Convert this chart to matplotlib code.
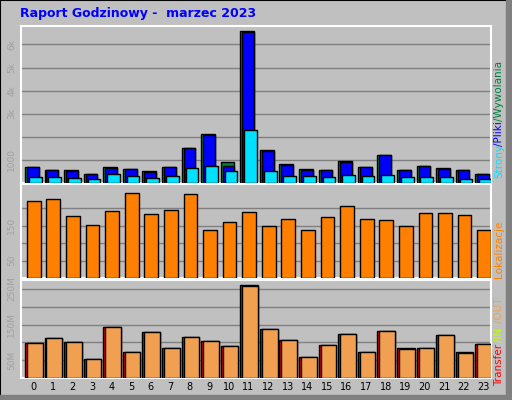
import matplotlib
matplotlib.use("Agg")
import matplotlib.pyplot as plt
from matplotlib.patches import Rectangle

hours = list(range(24))
hits = [680, 550, 550, 380, 680, 600, 510, 680, 1510, 2120, 900, 6590,
        1420, 810, 600, 550, 940, 680, 1200, 550, 720, 640, 550, 380]
files = [680, 550, 510, 380, 650, 600, 490, 680, 1510, 2070, 720, 6550,
         1380, 770, 550, 550, 900, 680, 1200, 550, 720, 600, 550, 380]
pages = [250, 250, 200, 160, 380, 290, 200, 290, 640, 720, 510, 2290,
         510, 290, 290, 250, 330, 290, 330, 250, 250, 250, 160, 160]
sites = [222, 228, 178, 153, 192, 244, 183, 194, 242, 139, 161, 189,
         150, 169, 139, 175, 206, 169, 167, 150, 186, 186, 181, 139]
transfer = [98, 112, 101, 52, 142, 72, 130, 84, 115, 104, 89, 260,
            138, 107, 58, 92, 124, 72, 133, 84, 84, 121, 72, 95]
out_mb = [98, 112, 101, 52, 142, 72, 130, 84, 115, 104, 89, 257,
          138, 107, 58, 92, 124, 72, 133, 81, 84, 121, 69, 95]

W, H = 512, 400
GRAY = "#c0c0c0"
fig = plt.figure(figsize=(W / 100, H / 100), dpi=100, facecolor=GRAY)

# outer bevelled frame
fig.patches.append(Rectangle((0, 0), 1, 1, transform=fig.transFigure,
                             fill=False, edgecolor="black", lw=1.5))
fig.patches.append(Rectangle((506 / W, 0), 6 / W, 1, transform=fig.transFigure,
                             color="#808080"))
fig.patches.append(Rectangle((0, 0), 1, 5 / H, transform=fig.transFigure,
                             color="#808080"))

fig.text(20 / W, 1 - 13 / H, "Raport Godzinowy -  marzec 2023", color="#0000ff",
         fontsize=9, fontweight="bold", va="center", family="DejaVu Sans")


def make_ax(top, bottom):
    ax = fig.add_axes([21 / W, 1 - bottom / H, 470 / W, (bottom - top) / H])
    ax.set_facecolor(GRAY)
    ax.set_xlim(0, 24)
    for s in ax.spines.values():
        s.set_color("white")
        s.set_linewidth(1.5)
    ax.tick_params(length=0, labelsize=6.5, labelcolor="#a0a0a0")
    ax.set_xticks([])
    return ax


def bars(ax, left, width, vals, color):
    ax.bar([h + left for h in hours], vals, width=width, align="edge",
           color=color, edgecolor="black", linewidth=1, zorder=3)


# top panel: hits / files / pages
ax1 = make_ax(26, 183)
ax1.set_ylim(0, 6800)
ax1.set_yticks([1000, 2000, 3000, 4000, 5000, 6000])
ax1.set_yticklabels(["1000", "", "3k", "4k", "5k", "6k"], rotation=90, va="center")
ax1.grid(axis="y", color="#808080", lw=1, zorder=0)
bars(ax1, 0.2, 0.7, hits, "#008040")
bars(ax1, 0.3, 0.6, files, "#0000ff")
bars(ax1, 0.4, 0.65, pages, "#00e0ff")

# middle panel: sites
ax2 = make_ax(184, 278)
ax2.set_ylim(0, 270)
ax2.set_yticks([50, 100, 150, 200])
ax2.set_yticklabels(["50", "", "150", ""], rotation=90, va="center")
ax2.grid(axis="y", color="#808080", lw=1, zorder=0)
bars(ax2, 0.3, 0.7, sites, "#ff8000")

# bottom panel: transfer
ax3 = make_ax(280, 378)
ax3.set_ylim(0, 275)
ax3.set_yticks([50, 100, 150, 200, 250])
ax3.set_yticklabels(["50M", "", "150M", "", "250M"], rotation=90, va="center")
ax3.grid(axis="y", color="#808080", lw=1, zorder=0)
bars(ax3, 0.2, 0.9, transfer, "#ff0000")
bars(ax3, 0.3, 0.8, out_mb, "#f0a050")

for h in hours:
    fig.text((21 + (h + 0.62) * 470 / 24) / W, 1 - 387 / H, str(h),
             fontsize=7, ha="center", va="center", color="black")

# right side labels (start pixel y, text, colour)
side = [(178, "Strony", "#00e0ff"), (146, "/Pliki", "#0000ff"),
        (121, "/Wywolania", "#008040"), (278, "Lokalizacje", "#ff8000"),
        (386, "Transfer", "#ff0000"), (342, "/IN", "#c0ff00"),
        (323, "/OUT", "#f0a050")]
for y0, txt, col in side:
    fig.text(499 / W, 1 - y0 / H, txt, color=col, rotation=90,
             fontsize=7.5, ha="center", va="bottom")

fig.savefig("out.png", dpi=100, facecolor=GRAY)
